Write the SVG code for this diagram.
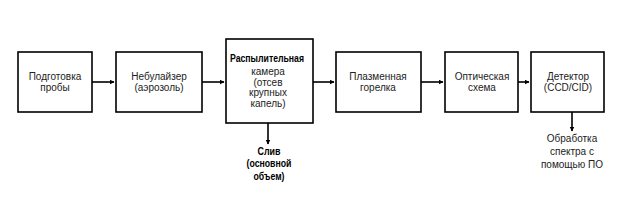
<svg xmlns="http://www.w3.org/2000/svg" width="630" height="208" viewBox="0 0 630 208">
<style>
.box{fill:#fff;stroke:#000;stroke-width:1.6}
.t{font-family:"Liberation Sans",Arial,sans-serif;font-size:10px;fill:#222;text-anchor:middle}
.b{font-weight:bold;fill:#000}
.c{stroke:#000;stroke-width:1.6;fill:none;marker-end:url(#ah)}
</style>
<defs>
<marker id="ah" viewBox="0 0 10 10" refX="9" refY="5" markerWidth="5" markerHeight="5" orient="auto" markerUnits="userSpaceOnUse">
<path d="M0,0 L10,5 L0,10 z" fill="#000"/>
</marker>
</defs>
<rect width="630" height="208" fill="#fff"/>
<g id="connectors">
<line class="c" x1="92" y1="82" x2="114" y2="82"/>
<line class="c" x1="202" y1="82" x2="224" y2="82"/>
<line class="c" x1="313" y1="82" x2="334" y2="82"/>
<line class="c" x1="421" y1="82" x2="443" y2="82"/>
<line class="c" x1="518" y1="82" x2="529" y2="82"/>
<line class="c" x1="268" y1="123" x2="268" y2="144"/>
<line class="c" x1="572" y1="112" x2="572" y2="131"/>
</g>
<g id="n1">
<rect class="box" x="18" y="52" width="74" height="60"/>
<text class="t" x="55" y="80">Подготовка</text>
<text class="t" x="55" y="91">пробы</text>
</g>
<g id="n2">
<rect class="box" x="116" y="52" width="86" height="60"/>
<text class="t" x="159" y="80">Небулайзер</text>
<text class="t" x="159" y="91">(аэрозоль)</text>
</g>
<g id="n3">
<rect class="box" x="226" y="39" width="87" height="84"/>
<text class="t b" x="267" y="62" textLength="74" lengthAdjust="spacingAndGlyphs">Распылительная</text>
<text class="t" x="268" y="75">камера</text>
<text class="t" x="268" y="86">(отсев</text>
<text class="t" x="268" y="96">крупных</text>
<text class="t" x="268" y="107">капель)</text>
</g>
<g id="n4">
<rect class="box" x="336" y="52" width="85" height="60"/>
<text class="t" x="378" y="80">Плазменная</text>
<text class="t" x="378" y="91">горелка</text>
</g>
<g id="n5">
<rect class="box" x="445" y="52" width="73" height="60"/>
<text class="t" x="482" y="80">Оптическая</text>
<text class="t" x="482" y="91">схема</text>
</g>
<g id="n6">
<rect class="box" x="531" y="52" width="73" height="60"/>
<text class="t" x="568" y="80">Детектор</text>
<text class="t" x="568" y="91">(CCD/CID)</text>
</g>
<g id="n7">
<text class="t b" x="269" y="155" textLength="23" lengthAdjust="spacingAndGlyphs">Слив</text>
<text class="t b" x="269" y="167" textLength="45" lengthAdjust="spacingAndGlyphs">(основной</text>
<text class="t b" x="269" y="180" textLength="31" lengthAdjust="spacingAndGlyphs">объем)</text>
</g>
<g id="n8">
<text class="t" x="572" y="142">Обработка</text>
<text class="t" x="572" y="155">спектра с</text>
<text class="t" x="572" y="168">помощью ПО</text>
</g>
</svg>
